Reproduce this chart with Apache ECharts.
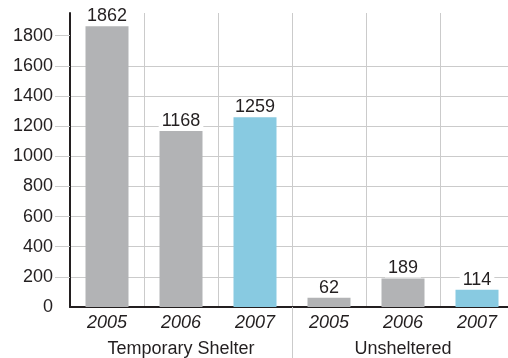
<!DOCTYPE html>
<html><head><meta charset="utf-8">
<script src="https://cdn.jsdelivr.net/npm/echarts@6/dist/echarts.min.js"></script>
<style>html,body{margin:0;padding:0;background:#fff}#c{width:508px;height:358px}</style>
</head><body><div id="c"></div>
<script>
const years = ['2005','2006','2007','2005','2006','2007'];
const groups = ['Temporary Shelter','Unsheltered'];
const values = [1862,1168,1259,62,189,114];
const yTicks = [0,200,400,600,800,1000,1200,1400,1600,1800];
const highlightYear = '2007';

const GRAY = '#b2b3b5', BLUE = '#88cae1', GRID = '#cbcbcb', INK = '#231f20';
const FONT = '"Liberation Sans", Arial, sans-serif';
const FS = 18;

const chart = echarts.init(document.getElementById('c'), null, {renderer:'canvas'});
chart.setOption({
  animation:false,
  textStyle:{fontFamily:FONT},
  grid:{left:70, width:444, top:13, height:294, containLabel:false, outerBoundsMode:'none'},
  xAxis:[
    {type:'category', data:years, boundaryGap:true,
     axisLine:{show:true, lineStyle:{color:INK, width:2}},
     axisTick:{show:false},
     axisLabel:{fontStyle:'italic', fontSize:FS, color:INK, margin:7, fontFamily:FONT},
     splitLine:{show:true, lineStyle:{color:GRID, width:1}}},
    {type:'category', data:groups, position:'bottom',
     axisLine:{show:false}, axisTick:{show:false},
     axisLabel:{fontSize:FS, color:INK, margin:33, fontFamily:FONT},
     splitLine:{show:false}},
    {type:'value', min:0, max:groups.length, interval:groups.length, position:'bottom',
     axisLine:{show:false}, axisTick:{show:false}, axisLabel:{show:false},
     splitLine:{show:false},
     minorTick:{show:true, splitNumber:groups.length, length:51, lineStyle:{color:GRID, width:1}}}
  ],
  yAxis:{type:'value', min:0, max:1950, interval:200,
    axisLine:{show:true, lineStyle:{color:INK, width:2}},
    axisTick:{show:true, length:15, customValues:yTicks.filter(v=>v>0), lineStyle:{color:GRID, width:1}},
    axisLabel:{fontSize:FS, color:INK, margin:17, fontFamily:FONT, customValues:yTicks,
      formatter:v=>String(v)},
    splitLine:{show:true, showMaxLine:false, lineStyle:{color:GRID, width:1}}},
  series:[{
    type:'bar', xAxisIndex:0, barWidth:43,
    data: values.map((v,i)=>({value:v, itemStyle:{color: years[i]===highlightYear ? BLUE : GRAY}})),
    label:{show:true, position:'top', distance:1, fontSize:FS, color:INK, fontFamily:FONT,
      backgroundColor:'#fff', padding:[0,3,0,3], formatter:p=>String(p.value)}
  }]
});
</script></body></html>
